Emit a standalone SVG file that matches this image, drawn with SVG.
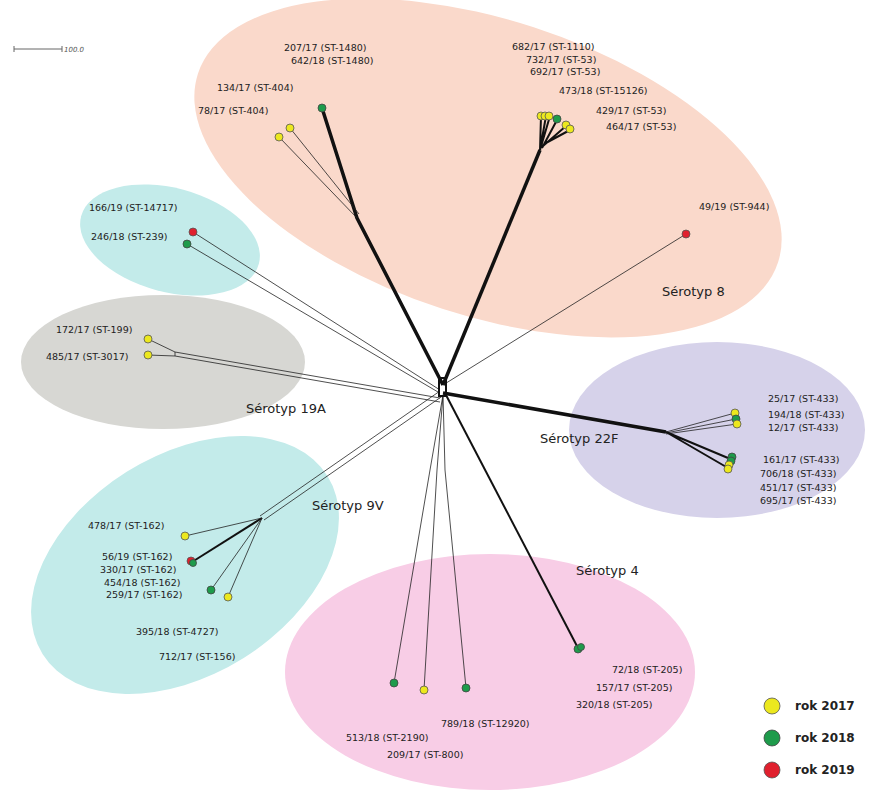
<svg xmlns="http://www.w3.org/2000/svg" width="874" height="800" viewBox="0 0 874 800">
<style>
text{font-family:"DejaVu Sans",Verdana,sans-serif;font-size:9.5px;fill:#222}
.t{font-size:13px}
.lg{font-size:12px;font-weight:bold}
.y{fill:#ece81e;stroke:#555;stroke-width:0.8}
.g{fill:#1e9b4b;stroke:#444;stroke-width:0.8}
.r{fill:#e0202e;stroke:#555;stroke-width:0.8}
.th{stroke:#111;fill:none;stroke-width:3.5}
.md{stroke:#111;fill:none;stroke-width:2}
.tn{stroke:#222;fill:none;stroke-width:0.8}
</style>
<rect width="874" height="800" fill="#fff"/>
<g id="areas">
<ellipse cx="488" cy="168" rx="305" ry="148" transform="rotate(18 488 168)" fill="#fad9cb"/>
<ellipse cx="170" cy="240" rx="92" ry="52" transform="rotate(15 170 240)" fill="#c3ebea"/>
<ellipse cx="163" cy="362" rx="142" ry="67" fill="#d7d7d3"/>
<ellipse cx="717" cy="430" rx="148" ry="88" fill="#d6d2ea"/>
<ellipse cx="185" cy="565" rx="168" ry="110" transform="rotate(-32 185 565)" fill="#c3ebea"/>
<ellipse cx="490" cy="672" rx="205" ry="118" fill="#f8cde6"/>
</g>
<g id="scale" stroke="#666" stroke-width="1">
<line x1="14" y1="49" x2="62" y2="49"/><line x1="14" y1="46" x2="14" y2="52"/><line x1="62" y1="46" x2="62" y2="52"/>
</g>
<text x="64" y="52" style="font-size:7px;font-style:italic;fill:#555">100.0</text>
<g id="connectors">
<path class="th" d="M443 385 L357 218 L322 108"/>
<path class="tn" d="M357 218 L279 137 M359 214 L290 128"/>
<path class="th" d="M443 385 L540 150"/>
<path class="md" d="M540 150 L541 116 M540 150 L546 116 M540 150 L550 116 M542 148 L557 120 M543 146 L566 126 M544 144 L570 130"/>
<path class="tn" d="M443 385 L686 234"/>
<path class="tn" d="M440 390 L193 232 M438 392 L187 244"/>
<path class="tn" d="M440 398 L175 352 L148 339 M440 402 L175 356 L148 355 M175 352 L175 356"/>
<path class="th" d="M443 393 L666 432"/>
<path class="tn" d="M666 432 L735 413 M666 433 L736 419 M666 434 L737 424"/>
<path class="md" d="M666 432 L728 458 M666 432 L728 468"/>
<path class="tn" d="M440 391 L260 516 M444 395 L264 520"/>
<path class="md" d="M262 518 L192 562"/>
<path class="tn" d="M262 518 L185 536 M262 518 L211 590 M262 518 L228 597"/>
<path class="tn" d="M443 395 L430 470 L394 683 M443 395 L437 470 L424 690 M443 395 L445 470 L466 688"/>
<path class="md" d="M446 395 L578 648"/>
<path class="md" d="M439 378 L446 378 L446 396 L439 396 Z"/>
</g>
<g id="nodes">
<circle class="g" cx="322" cy="108" r="4"/>
<circle class="y" cx="279" cy="137" r="4"/>
<circle class="y" cx="290" cy="128" r="4"/>
<circle class="y" cx="541" cy="116" r="4"/>
<circle class="y" cx="545" cy="116" r="4"/>
<circle class="y" cx="549" cy="116" r="4"/>
<circle class="g" cx="557" cy="119" r="4"/>
<circle class="y" cx="566" cy="125" r="4"/>
<circle class="y" cx="570" cy="129" r="4"/>
<circle class="r" cx="686" cy="234" r="4"/>
<circle class="r" cx="193" cy="232" r="4"/>
<circle class="g" cx="187" cy="244" r="4"/>
<circle class="y" cx="148" cy="339" r="4"/>
<circle class="y" cx="148" cy="355" r="4"/>
<circle class="y" cx="735" cy="413" r="4"/>
<circle class="g" cx="736" cy="419" r="4"/>
<circle class="y" cx="737" cy="424" r="4"/>
<circle class="g" cx="732" cy="457" r="4"/>
<circle class="g" cx="731" cy="461" r="4"/>
<circle class="y" cx="729" cy="465" r="4"/>
<circle class="y" cx="728" cy="469" r="4"/>
<circle class="y" cx="185" cy="536" r="4"/>
<circle class="r" cx="191" cy="561" r="4"/>
<circle class="g" cx="193" cy="563" r="3.5"/>
<circle class="g" cx="211" cy="590" r="4"/>
<circle class="y" cx="228" cy="597" r="4"/>
<circle class="g" cx="394" cy="683" r="4"/>
<circle class="y" cx="424" cy="690" r="4"/>
<circle class="g" cx="466" cy="688" r="4"/>
<circle class="g" cx="578" cy="649" r="4"/>
<circle class="g" cx="581" cy="647" r="3.5"/>
</g>
<g id="labels">
<text x="284" y="51">207/17 (ST-1480)</text>
<text x="291" y="64">642/18 (ST-1480)</text>
<text x="217" y="91">134/17 (ST-404)</text>
<text x="198" y="114">78/17 (ST-404)</text>
<text x="512" y="50">682/17 (ST-1110)</text>
<text x="526" y="63">732/17 (ST-53)</text>
<text x="530" y="75">692/17 (ST-53)</text>
<text x="559" y="94">473/18 (ST-15126)</text>
<text x="596" y="114">429/17 (ST-53)</text>
<text x="606" y="130">464/17 (ST-53)</text>
<text x="699" y="210">49/19 (ST-944)</text>
<text x="662" y="296" class="t">Sérotyp 8</text>
<text x="89" y="211">166/19 (ST-14717)</text>
<text x="91" y="240">246/18 (ST-239)</text>
<text x="56" y="333">172/17 (ST-199)</text>
<text x="46" y="360">485/17 (ST-3017)</text>
<text x="246" y="413" class="t">Sérotyp 19A</text>
<text x="540" y="443" class="t">Sérotyp 22F</text>
<text x="768" y="402">25/17 (ST-433)</text>
<text x="768" y="418">194/18 (ST-433)</text>
<text x="768" y="431">12/17 (ST-433)</text>
<text x="763" y="463">161/17 (ST-433)</text>
<text x="760" y="477">706/18 (ST-433)</text>
<text x="760" y="491">451/17 (ST-433)</text>
<text x="760" y="504">695/17 (ST-433)</text>
<text x="312" y="510" class="t">Sérotyp 9V</text>
<text x="88" y="529">478/17 (ST-162)</text>
<text x="102" y="560">56/19 (ST-162)</text>
<text x="100" y="573">330/17 (ST-162)</text>
<text x="104" y="586">454/18 (ST-162)</text>
<text x="106" y="598">259/17 (ST-162)</text>
<text x="136" y="635">395/18 (ST-4727)</text>
<text x="159" y="660">712/17 (ST-156)</text>
<text x="576" y="575" class="t">Sérotyp 4</text>
<text x="612" y="673">72/18 (ST-205)</text>
<text x="596" y="691">157/17 (ST-205)</text>
<text x="576" y="708">320/18 (ST-205)</text>
<text x="441" y="727">789/18 (ST-12920)</text>
<text x="346" y="741">513/18 (ST-2190)</text>
<text x="387" y="758">209/17 (ST-800)</text>
</g>
<g id="legend">
<circle class="y" cx="772" cy="706" r="8"/>
<circle class="g" cx="772" cy="738" r="8"/>
<circle class="r" cx="772" cy="770" r="8"/>
<text x="795" y="710" class="lg">rok 2017</text>
<text x="795" y="742" class="lg">rok 2018</text>
<text x="795" y="774" class="lg">rok 2019</text>
</g>
</svg>
